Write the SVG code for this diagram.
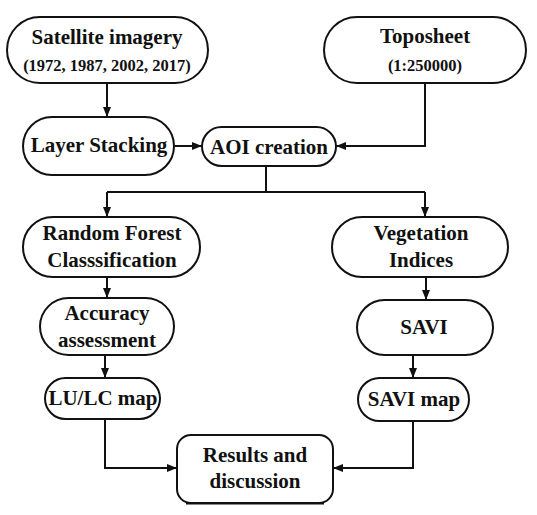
<svg xmlns="http://www.w3.org/2000/svg" width="537" height="515" viewBox="0 0 537 515">
<defs>
<style>
.n{fill:#fff;stroke:#111;stroke-width:2}
.t{font-family:"Liberation Serif","Times New Roman",serif;font-weight:bold;fill:#111;text-anchor:middle;font-size:21px}
.s{font-size:16.5px}
.c{fill:none;stroke:#111;stroke-width:2}
</style>
<marker id="a" viewBox="0 0 10 8" refX="10" refY="4" markerWidth="10" markerHeight="8" markerUnits="userSpaceOnUse" orient="auto"><path d="M0,0 L10,4 L0,8 z" fill="#111"/></marker>
</defs>
<rect width="537" height="515" fill="#fff"/>
<g id="connectors">
<path class="c" d="M107,83 V117" marker-end="url(#a)"/>
<path class="c" d="M174,146 H202" marker-end="url(#a)"/>
<path class="c" d="M425,83 V146 H336" marker-end="url(#a)"/>
<path class="c" d="M266,166 V192"/>
<path class="c" d="M107,192 H425"/>
<path class="c" d="M107,192 V217" marker-end="url(#a)"/>
<path class="c" d="M425,192 V217" marker-end="url(#a)"/>
<path class="c" d="M107,277 V298" marker-end="url(#a)"/>
<path class="c" d="M426,277 V300" marker-end="url(#a)"/>
<path class="c" d="M105,355 V378" marker-end="url(#a)"/>
<path class="c" d="M413,355 V378" marker-end="url(#a)"/>
<path class="c" d="M105,419 V468 H177" marker-end="url(#a)"/>
<path class="c" d="M413,421 V468 H333" marker-end="url(#a)"/>
</g>
<g id="satellite">
<rect class="n" x="7" y="17" width="201" height="66" rx="33"/>
<text class="t" x="107" y="44">Satellite imagery</text>
<text class="t s" x="107" y="71">(1972, 1987, 2002, 2017)</text>
</g>
<g id="toposheet">
<rect class="n" x="324" y="17" width="202" height="66" rx="33"/>
<text class="t" x="425" y="43">Toposheet</text>
<text class="t s" x="425" y="71">(1:250000)</text>
</g>
<g id="layer">
<rect class="n" x="23" y="117" width="151" height="58" rx="29"/>
<text class="t" x="99" y="152">Layer Stacking</text>
</g>
<g id="aoi">
<rect class="n" x="202" y="127" width="134" height="39" rx="19.5"/>
<text class="t" x="269" y="154">AOI creation</text>
</g>
<g id="rf">
<rect class="n" x="23" y="217" width="177" height="60" rx="30"/>
<text class="t" x="112" y="240">Random Forest</text>
<text class="t" x="112" y="267">Classsification</text>
</g>
<g id="veg">
<rect class="n" x="332" y="217" width="176" height="60" rx="30"/>
<text class="t" x="421" y="240">Vegetation</text>
<text class="t" x="421" y="267">Indices</text>
</g>
<g id="accuracy">
<rect class="n" x="40" y="298" width="134" height="57" rx="28.5"/>
<text class="t" x="107" y="320">Accuracy</text>
<text class="t" x="107" y="347">assessment</text>
</g>
<g id="savi">
<rect class="n" x="357" y="300" width="136" height="55" rx="27.5"/>
<text class="t" x="424" y="334">SAVI</text>
</g>
<g id="lulc">
<rect class="n" x="45" y="378" width="115" height="41" rx="20.5"/>
<text class="t" x="103" y="405">LU/LC map</text>
</g>
<g id="savimap">
<rect class="n" x="358" y="378" width="111" height="43" rx="21.5"/>
<text class="t" x="414" y="406">SAVI map</text>
</g>
<g id="results">
<rect class="n" x="177" y="435" width="156" height="68" rx="14"/>
<line class="c" x1="186" y1="503.5" x2="324" y2="503.5" stroke-width="3"/>
<text class="t" x="255" y="462">Results and</text>
<text class="t" x="255" y="488">discussion</text>
</g>
</svg>
